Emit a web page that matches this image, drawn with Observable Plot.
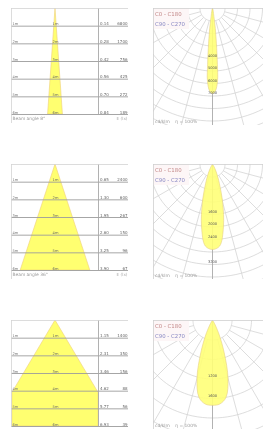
<!DOCTYPE html>
<html><head><meta charset="utf-8">
<script src="https://cdn.jsdelivr.net/npm/d3@7"></script>
<script src="https://cdn.jsdelivr.net/npm/@observablehq/plot@0.6"></script>
<style>
html,body{margin:0;padding:0;background:#fff;}
#root{position:relative;width:264px;height:430px;overflow:hidden;}
.panel{position:absolute;overflow:hidden;}
.panel svg{display:block;filter:blur(0.6px);}
</style></head><body><div id="root"></div>
<script>
// ---------- data ----------
const panelTops = [8, 164, 320];
const beamLabels = ["Beam angle 8°", "Beam angle 36°", "Beam angle 60°"];
const rowDepths = [1, 2, 3, 4, 5, 6];                 // m
const rowNames = ["1m", "2m", "3m", "4m", "5m", "6m"];
// cone outlines (depth in m, half width in m)
const cone1Depth = [0, 6],      cone1Half = [0, 0.42];
const cone2Depth = [0, 6],      cone2Half = [0, 1.97];
const cone3Depth = [0, 4.1, 6], cone3Half = [0, 2.44, 2.44];
// right column texts of the cone panels
const cone1Diam = ["0.14", "0.28", "0.42", "0.56", "0.70", "0.84"];
const cone1Lux  = ["6800", "1700", "756", "425", "272", "189"];
const cone2Diam = ["0.65", "1.30", "1.95", "2.60", "3.25", "3.90"];
const cone2Lux  = ["2400", "600", "267", "150", "96", "67"];
const cone3Diam = ["1.15", "2.31", "3.46", "4.62", "5.77", "6.93"];
const cone3Lux  = ["1400", "350", "156", "88", "56", "39"];

// polar curves: angle from nadir (deg) and intensity (cd/klm)
const polar1Angle = [0, 2, 4, 5, 6, 8, 10, 15, 25, 90];
const polar1Value = [6800, 6600, 5800, 4480, 3200, 1600, 640, 240, 80, 0];
const polar2Angle = [0, 5, 10, 15, 20, 25, 30, 40, 90];
const polar2Value = [2720, 2620, 2020, 1250, 640, 330, 160, 50, 0];
const polar3Angle = [0, 5, 10, 15, 20, 25, 30, 40, 60, 90];
const polar3Value = [1740, 1720, 1600, 1230, 700, 330, 130, 30, 5, 0];
// polar grid: ring step (cd/klm) and labelled rings
const polar1Step = 1000, polar1Labels = [4000, 5000, 6000, 7000];
const polar2Step = 400,  polar2Labels = [1600, 2000, 2400, 3200];
const polar3Step = 400,  polar3Labels = [1200, 1600];
const legendNames = ["C0 - C180", "C90 - C270"];
const polarCaption = "cd/klm    η = 100%";

// ---------- drawing ----------
const root = document.getElementById("root");
const FONT = "DejaVu Sans";

function place(svg, left, top, w, h) {
  const d = document.createElement("div");
  d.className = "panel";
  d.style.left = left + "px"; d.style.top = top + "px";
  d.style.width = w + "px"; d.style.height = h + "px";
  d.appendChild(svg);
  root.appendChild(d);
}

function conePanel(top, depth, half, diam, lux, caption, showCaption) {
  const boxH = 106, W = 117, H = showCaption ? 115 : boxH + 1;
  const u = boxH / 6;                    // px per metre
  const xL = -44 / u, xR = 73 / u, xDiv = 43 / u;
  const cone = depth.map((d, i) => ({d, h: half[i]}));
  const rows = rowDepths.map((d, i) => ({d, name: rowNames[i], diam: diam[i], lux: lux[i]}));
  const marks = [
    Plot.areaX(cone, {y: "d", x1: r => -r.h, x2: "h", fill: "#ffff70", stroke: "#efcf7a", strokeWidth: 0.6}),
    Plot.ruleY(rows, {y: "d", stroke: "#9c9c9c", strokeWidth: 0.9}),
    Plot.ruleX([xDiv], {y1: 0, y2: 6, stroke: "#a8a8a8", strokeWidth: 0.9}),
    Plot.frame({stroke: "#d4d4d4", strokeWidth: 0.8}),
    Plot.text(rows, {x: 0, y: "d", text: "name", dy: -2, fontSize: 3.6, fill: "#666"}),
    Plot.text(rows, {x: xL, y: "d", text: "name", dx: 1, dy: -2, textAnchor: "start", fontSize: 3.6, fill: "#777"}),
    Plot.text(rows, {x: xDiv, y: "d", text: "diam", dx: 1.5, dy: -2, textAnchor: "start", fontSize: 4, fill: "#666"}),
    Plot.text(rows, {x: xR, y: "d", text: "lux", dx: -1, dy: -2, textAnchor: "end", fontSize: 4, fill: "#666"})
  ];
  if (showCaption) {
    marks.push(
      Plot.text([caption], {x: xL, y: 6, text: d => d, dx: 1, dy: 4.5, textAnchor: "start", fontSize: 4.4, fill: "#999"}),
      Plot.text(["E (lx)"], {x: xR, y: 6, text: d => d, dx: -1, dy: 4.5, textAnchor: "end", fontSize: 4.2, fill: "#aaa"})
    );
  }
  const svg = Plot.plot({
    width: W, height: H, margin: 0,
    x: {domain: [xL, xR], range: [0, W], axis: null},
    y: {domain: [0, 6], range: [0, boxH], axis: null},
    style: {fontFamily: FONT, background: "transparent", overflow: "hidden"},
    marks
  });
  place(svg, 11, top, W, H);
}

function polarPanel(top, angles, values, step, labels, spacing, H) {
  const W = 110, cx = 59;
  const k = spacing / step;              // px per cd
  const rad = a => a * Math.PI / 180;
  const maxR = Math.hypot(cx, H) / k;
  // grid rings
  const rings = [];
  for (let r = step, j = 0; r <= maxR + step; r += step, j++) {
    for (let a = -90; a <= 90; a += 3) rings.push({ring: j, x: r * Math.sin(rad(a)), y: r * Math.cos(rad(a))});
  }
  const spokes = [-75, -60, -45, -30, -15, 15, 30, 45, 60, 75].map(a => ({
    x1: step * Math.sin(rad(a)), y1: step * Math.cos(rad(a)),
    x2: 2 * maxR * Math.sin(rad(a)), y2: 2 * maxR * Math.cos(rad(a))
  }));
  // curve (symmetric C-planes)
  const curve = [];
  for (let i = angles.length - 1; i >= 0; i--) curve.push({x: -values[i] * Math.sin(rad(angles[i])), y: values[i] * Math.cos(rad(angles[i]))});
  for (let i = 1; i < angles.length; i++) curve.push({x: values[i] * Math.sin(rad(angles[i])), y: values[i] * Math.cos(rad(angles[i]))});
  const svg = Plot.plot({
    width: W, height: H, margin: 0,
    x: {domain: [-cx / k, (W - cx) / k], range: [0, W], axis: null},
    y: {domain: [0, H / k], range: [0, H], axis: null},
    style: {fontFamily: FONT, background: "transparent", overflow: "hidden"},
    marks: [
      Plot.line(rings, {x: "x", y: "y", z: "ring", stroke: "#cfcfcf", strokeWidth: 0.7, clip: true}),
      Plot.link(spokes, {x1: "x1", y1: "y1", x2: "x2", y2: "y2", stroke: "#cfcfcf", strokeWidth: 0.7, clip: true}),
      Plot.ruleX([0], {y1: 0, y2: H / k, stroke: "#a9a9a9", strokeWidth: 0.9}),
      Plot.line(curve, {x: "x", y: "y", fill: "#ffff78", fillOpacity: 0.9, stroke: "#e6cf84", strokeWidth: 0.6, curve: "catmull-rom", clip: true}),
      Plot.text(labels, {x: 0, y: d => d, text: d => String(d), dy: -3, fontSize: 3.6, fill: "#555"}),
      Plot.rect([0], {x1: -cx / k, x2: -cx / k + 36 / k, y1: 0, y2: 21 / k, fill: "#fdf6f7"}),
      Plot.text([legendNames[0]], {x: -cx / k, y: 0, text: d => d, dx: 1.5, dy: 6, textAnchor: "start", fontSize: 5.4, fill: "#c48a8a"}),
      Plot.text([legendNames[1]], {x: -cx / k, y: 0, text: d => d, dx: 1.5, dy: 16, textAnchor: "start", fontSize: 5.4, fill: "#8a8ac4"}),
      Plot.text([polarCaption], {x: -cx / k, y: H / k, text: d => d, dx: 1.5, dy: -4, textAnchor: "start", fontSize: 4.4, fill: "#999"}),
      Plot.frame({stroke: "#d0d0d0", strokeWidth: 0.8})
    ]
  });
  place(svg, 153, top, W, H);
}

conePanel(panelTops[0], cone1Depth, cone1Half, cone1Diam, cone1Lux, beamLabels[0], true);
conePanel(panelTops[1], cone2Depth, cone2Half, cone2Diam, cone2Lux, beamLabels[1], true);
conePanel(panelTops[2], cone3Depth, cone3Half, cone3Diam, cone3Lux, beamLabels[2], false);
polarPanel(panelTops[0], polar1Angle, polar1Value, polar1Step, polar1Labels, 12.5, 117);
polarPanel(panelTops[1], polar2Angle, polar2Value, polar2Step, polar2Labels, 12.5, 115);
polarPanel(panelTops[2], polar3Angle, polar3Value, polar3Step, polar3Labels, 19.5, 109);
</script></body></html>
